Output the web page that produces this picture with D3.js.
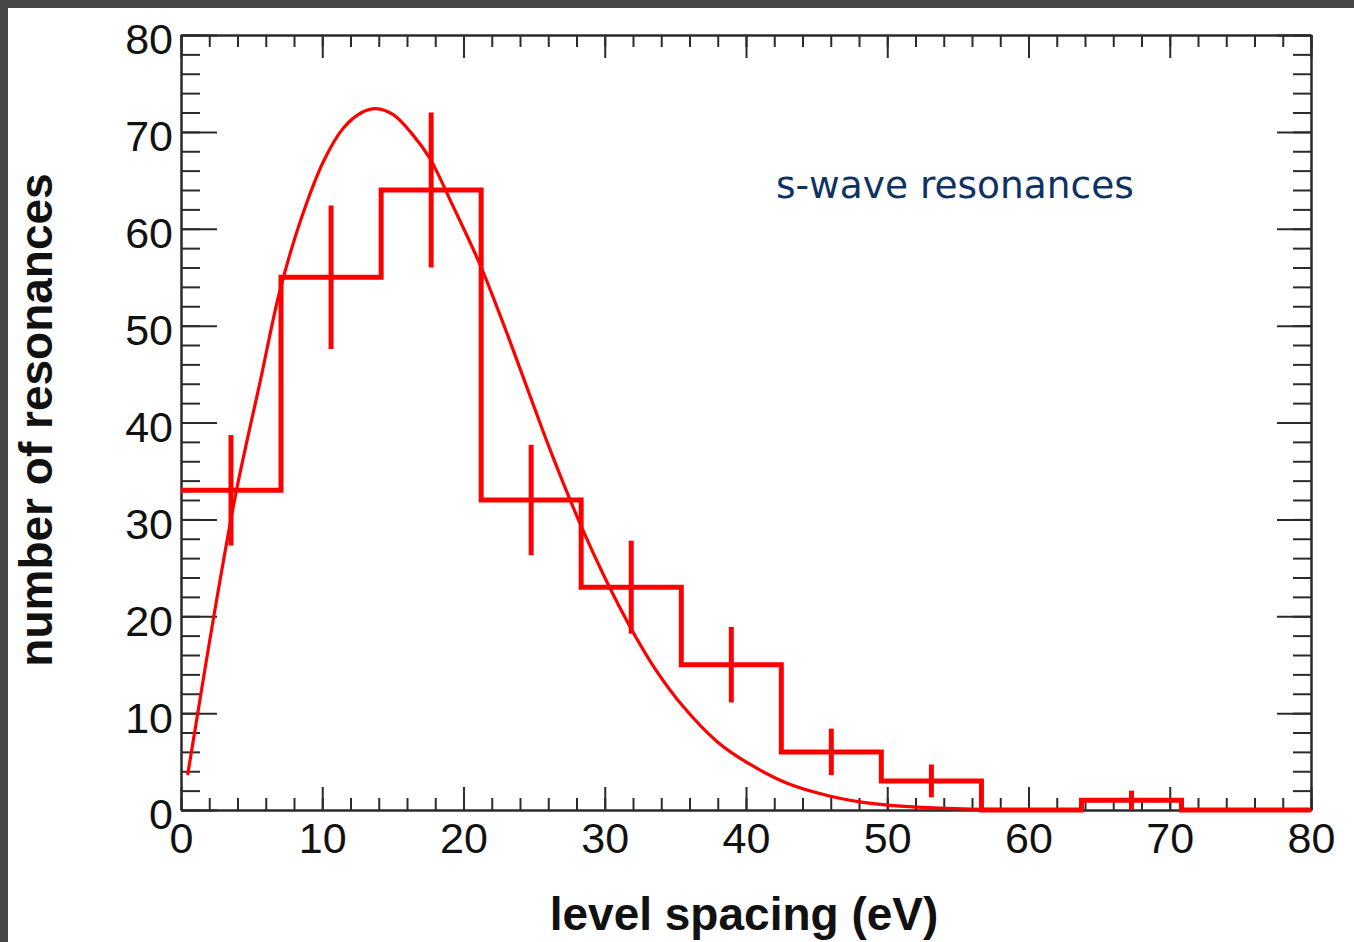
<!DOCTYPE html>
<html>
<head>
<meta charset="utf-8">
<script src="https://cdn.jsdelivr.net/npm/d3@7"></script>
<style>
  html, body { margin: 0; padding: 0; background: #fff; overflow: hidden; }
  svg { display: block; }
</style>
</head>
<body>
<svg id="chart" width="1354" height="942"></svg>
<script>
// ---------------- data ----------------
const binEdges = [0, 7.08, 14.17, 21.25, 28.33, 35.42, 42.5, 49.58, 56.67, 63.75, 70.83, 77.92, 85];
const counts   = [33, 55, 64, 32, 23, 15, 6, 3, 0, 1, 0, 0];
const errors   = [5.7, 7.4, 8.0, 5.7, 4.8, 3.9, 2.4, 1.7, 0, 1.0, 0, 0];

const fitX = [0.47, 1.5, 2.3, 3.9, 5.6, 7.0, 8.5, 10.1, 11.5, 12.8, 13.8, 15.0, 16.3, 17.6, 19.3, 21.2,
              23.0, 24.9, 26.1, 28.3, 30.0, 31.8, 33.6, 35.6, 38.0, 40.3, 43.0, 45.9, 49.0, 52.1, 56.0, 60.0];
const fitY = [3.6, 12.8, 19.8, 32.8, 44.2, 53.6, 61.0, 67.0, 70.4, 72.0, 72.4, 71.8, 69.9, 67.3, 62.2, 56.2,
              49.5, 42.0, 37.3, 29.4, 24.0, 18.9, 14.5, 10.6, 7.0, 4.7, 2.7, 1.45, 0.65, 0.3, 0.1, 0.03];

const xMajorTicks = [0, 10, 20, 30, 40, 50, 60, 70, 80];
const yMajorTicks = [0, 10, 20, 30, 40, 50, 60, 70, 80];
const xMinorTicks = d3.range(0, 81, 2);
const yMinorTicks = d3.range(0, 81, 2);

const xTitle = "level spacing (eV)";
const yTitle = "number of resonances";
const label  = "s-wave resonances";

// ---------------- layout ----------------
const W = 1354, H = 942;
const plot = { left: 181, right: 1311, top: 35, bottom: 810 };
const axisColor = "#2b2b2b";
const red = "#ff0000";

const svg = d3.select("#chart");

// dark frame (top & left) and white canvas
svg.append("rect").attr("x", 0).attr("y", 0).attr("width", W).attr("height", H).attr("fill", "#474747");
svg.append("rect").attr("x", 8).attr("y", 8).attr("width", W - 8).attr("height", H - 8).attr("fill", "#ffffff");

const x = d3.scaleLinear().domain([0, 80]).range([plot.left, plot.right]);
const y = d3.scaleLinear().domain([0, 80]).range([plot.bottom, plot.top]);

function styleAxis(g) {
  g.select(".domain").attr("stroke", axisColor).attr("stroke-width", 2);
  g.selectAll(".tick line").attr("stroke", axisColor).attr("stroke-width", 2);
  g.selectAll("text").attr("font-family", "'Liberation Sans', Arial, sans-serif")
    .attr("font-size", 43).attr("fill", "#111");
}

// bottom axis: minor + major (inward ticks)
svg.append("g").attr("transform", `translate(0,${plot.bottom})`)
  .call(d3.axisBottom(x).tickValues(xMinorTicks).tickSize(-12).tickSizeOuter(0).tickFormat(""))
  .call(styleAxis);
svg.append("g").attr("transform", `translate(0,${plot.bottom})`)
  .call(d3.axisBottom(x).tickValues(xMajorTicks).tickSize(-23).tickSizeOuter(0).tickPadding(12).tickFormat(d3.format("d")))
  .call(styleAxis);

// top axis
svg.append("g").attr("transform", `translate(0,${plot.top})`)
  .call(d3.axisTop(x).tickValues(xMinorTicks).tickSize(-12).tickSizeOuter(0).tickFormat(""))
  .call(styleAxis);
svg.append("g").attr("transform", `translate(0,${plot.top})`)
  .call(d3.axisTop(x).tickValues(xMajorTicks).tickSize(-23).tickSizeOuter(0).tickFormat(""))
  .call(styleAxis);

// left axis
svg.append("g").attr("transform", `translate(${plot.left},0)`)
  .call(d3.axisLeft(y).tickValues(yMinorTicks).tickSize(-19).tickSizeOuter(0).tickFormat(""))
  .call(styleAxis);
const yAxisG = svg.append("g").attr("transform", `translate(${plot.left},0)`)
  .call(d3.axisLeft(y).tickValues(yMajorTicks).tickSize(-36).tickSizeOuter(0).tickPadding(8).tickFormat(d3.format("d")))
  .call(styleAxis);
yAxisG.selectAll("text").attr("dy", "0.44em");

// right axis
svg.append("g").attr("transform", `translate(${plot.right},0)`)
  .call(d3.axisRight(y).tickValues(yMinorTicks).tickSize(-18).tickSizeOuter(0).tickFormat(""))
  .call(styleAxis);
svg.append("g").attr("transform", `translate(${plot.right},0)`)
  .call(d3.axisRight(y).tickValues(yMajorTicks).tickSize(-34).tickSizeOuter(0).tickFormat(""))
  .call(styleAxis);

// clip to x-range of plot
svg.append("defs").append("clipPath").attr("id", "clipX")
  .append("rect").attr("x", plot.left).attr("y", 0).attr("width", plot.right - plot.left).attr("height", H);

const dataG = svg.append("g").attr("clip-path", "url(#clipX)");

// histogram as step path
const stepPts = [];
counts.forEach((c, i) => {
  stepPts.push([binEdges[i], c]);
  stepPts.push([binEdges[i + 1], c]);
});
dataG.append("path")
  .datum(stepPts)
  .attr("fill", "none")
  .attr("stroke", red)
  .attr("stroke-width", 5)
  .attr("stroke-linejoin", "miter")
  .attr("d", d3.line().x(d => x(d[0])).y(d => y(d[1])));

// error bars
const centers = counts.map((c, i) => (binEdges[i] + binEdges[i + 1]) / 2);
dataG.selectAll("line.err")
  .data(counts.map((c, i) => ({ cx: centers[i], v: c, e: errors[i] })).filter(d => d.e > 0 && d.cx <= 80))
  .join("line")
  .attr("class", "err")
  .attr("x1", d => x(d.cx)).attr("x2", d => x(d.cx))
  .attr("y1", d => y(d.v - d.e)).attr("y2", d => y(d.v + d.e))
  .attr("stroke", red).attr("stroke-width", 5);

// fit curve
dataG.append("path")
  .datum(fitX.map((v, i) => [v, fitY[i]]))
  .attr("fill", "none")
  .attr("stroke", red)
  .attr("stroke-width", 3.2)
  .attr("d", d3.line().x(d => x(d[0])).y(d => y(d[1])).curve(d3.curveCatmullRom.alpha(0.5)));

// axis titles
svg.append("text")
  .attr("x", 744).attr("y", 930)
  .attr("text-anchor", "middle")
  .attr("font-family", "'Liberation Sans', Arial, sans-serif")
  .attr("font-weight", "bold").attr("font-size", 46).attr("fill", "#111")
  .text(xTitle);

svg.append("text")
  .attr("transform", `translate(52,420) rotate(-90)`)
  .attr("text-anchor", "middle")
  .attr("font-family", "'Liberation Sans', Arial, sans-serif")
  .attr("font-weight", "bold").attr("font-size", 46).attr("fill", "#111")
  .text(yTitle);

// annotation
svg.append("text")
  .attr("x", 776).attr("y", 198)
  .attr("font-family", "'DejaVu Sans', Verdana, sans-serif")
  .attr("font-size", 37.5).attr("fill", "#0f3264")
  .text(label);
</script>
</body>
</html>
